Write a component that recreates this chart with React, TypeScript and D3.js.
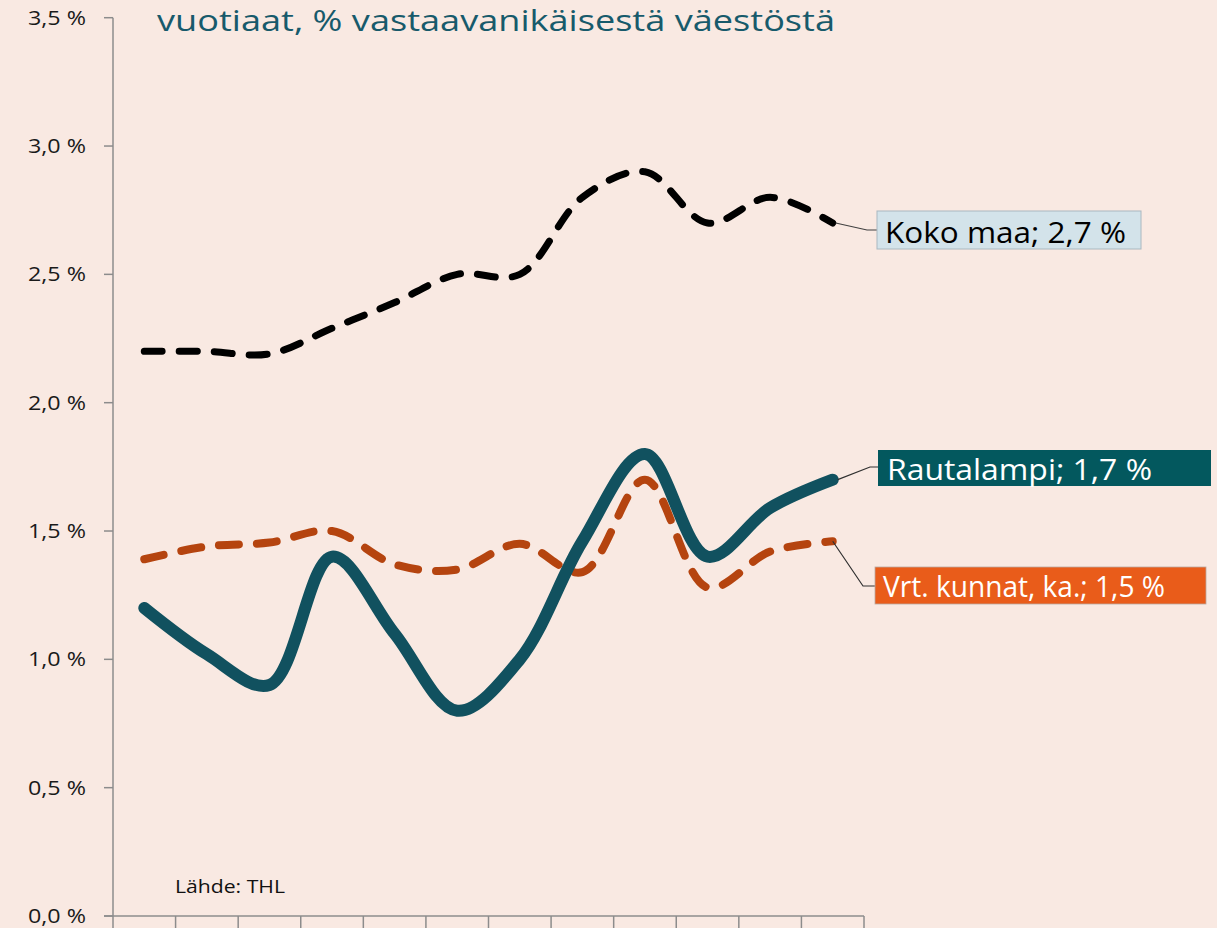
import React from "react";
import * as d3 from "d3";

const years = ["1","2","3","4","5","6","7","8","9","10","11","12"];
const kokoMaa = [2.2, 2.2, 2.19, 2.29, 2.39, 2.5, 2.5, 2.8, 2.9, 2.7, 2.8, 2.7];
const rautalampi = [1.2, 1.02, 0.9, 1.4, 1.1, 0.8, 1.0, 1.46, 1.8, 1.4, 1.59, 1.7];
const vrtKunnat = [1.39, 1.44, 1.455, 1.5, 1.37, 1.35, 1.45, 1.34, 1.7, 1.28, 1.42, 1.46];
const yTicks = [0, 0.5, 1, 1.5, 2, 2.5, 3, 3.5];

const W = 1217, H = 928;
const FONT = "'Open Sans', 'Noto Sans', sans-serif";

export default function App() {
  const x = d3.scaleBand<string>().domain(years).range([113, 864]);
  const y = d3.scaleLinear().domain([0, 3.5]).range([916, 17.7]);
  const cx = (i: number) => (x(years[i]) as number) + x.bandwidth() / 2;
  const line = d3
    .line<number>()
    .x((_, i) => cx(i))
    .y((d) => y(d))
    .curve(d3.curveCatmullRom.alpha(0.5));
  const fmt = (v: number) => v.toFixed(1).replace(".", ",") + " %";
  const boundaries = years.map((yr) => x(yr) as number).concat([864]);
  const last = years.length - 1;

  return (
    <svg
      width={W}
      height={H}
      style={{ position: "absolute", left: 0, top: 0, display: "block" }}
    >
      <rect x={0} y={0} width={W} height={H} fill="#F9E9E2" />
      <text
        x={157}
        y={31}
        fontFamily={FONT}
        fontSize={29}
        fill="#175A6B"
        textLength={678}
        lengthAdjust="spacingAndGlyphs"
      >
        vuotiaat, % vastaavanikäisestä väestöstä
      </text>

      {/* y axis */}
      <line x1={113} x2={113} y1={y(3.5)} y2={916} stroke="#8C8C8C" strokeWidth={1.5} />
      {yTicks.map((t) => (
        <g key={t}>
          <line x1={104} x2={113} y1={y(t)} y2={y(t)} stroke="#8C8C8C" strokeWidth={1.5} />
          <text
            x={86}
            y={y(t) + 7}
            textAnchor="end"
            fontFamily={FONT}
            fontSize={20}
            fill="#1a1a1a"
            textLength={58}
            lengthAdjust="spacingAndGlyphs"
          >
            {fmt(t)}
          </text>
        </g>
      ))}
      {/* x axis */}
      <line x1={104} x2={864} y1={916} y2={916} stroke="#8C8C8C" strokeWidth={1.5} />
      {boundaries.map((b, i) => (
        <line key={i} x1={b} x2={b} y1={916} y2={928} stroke="#8C8C8C" strokeWidth={1.5} />
      ))}

      <text
        x={175}
        y={893}
        fontFamily={FONT}
        fontSize={18}
        fill="#111"
        textLength={110}
        lengthAdjust="spacingAndGlyphs"
      >
        Lähde: THL
      </text>

      {/* lines */}
      <path
        d={line(kokoMaa) as string}
        fill="none"
        stroke="#000"
        strokeWidth={7}
        strokeLinecap="round"
        strokeDasharray="18 17"
      />
      <path
        d={line(vrtKunnat) as string}
        fill="none"
        stroke="#B5440F"
        strokeWidth={8}
        strokeLinecap="round"
        strokeDasharray="20 18"
      />
      <path
        d={line(rautalampi) as string}
        fill="none"
        stroke="#11515F"
        strokeWidth={12}
        strokeLinecap="round"
      />

      {/* Koko maa label */}
      <polyline
        points={`${cx(last) + 3},${y(kokoMaa[last])} 867,230 877,230`}
        fill="none"
        stroke="#404040"
        strokeWidth={1.2}
      />
      <rect x={877} y={211} width={264} height={38} fill="#D3E3EA" stroke="#A9B8C0" strokeWidth={1} />
      <text
        x={885}
        y={243}
        fontFamily={FONT}
        fontSize={30}
        fill="#000"
        textLength={241}
        lengthAdjust="spacingAndGlyphs"
      >
        {`Koko maa; ${fmt(kokoMaa[last])}`}
      </text>

      {/* Rautalampi label */}
      <polyline
        points={`${cx(last) + 5},${y(rautalampi[last])} 870,467 878,467`}
        fill="none"
        stroke="#303030"
        strokeWidth={1.2}
      />
      <rect x={878} y={450} width={333} height={36} fill="#03585E" />
      <text
        x={887}
        y={480}
        fontFamily={FONT}
        fontSize={30}
        fill="#fff"
        textLength={265}
        lengthAdjust="spacingAndGlyphs"
      >
        {`Rautalampi; ${fmt(rautalampi[last])}`}
      </text>

      {/* Vrt. kunnat label */}
      <polyline
        points={`${cx(last)},${y(vrtKunnat[last])} 863,586 875,586`}
        fill="none"
        stroke="#303030"
        strokeWidth={1.2}
      />
      <rect x={875} y={567} width={331} height={37} fill="#E95C1A" stroke="#B9A9A0" strokeWidth={0.8} />
      <text
        x={883}
        y={597}
        fontFamily={FONT}
        fontSize={30}
        fill="#fff"
        textLength={282}
        lengthAdjust="spacingAndGlyphs"
      >
        {`Vrt. kunnat, ka.; ${fmt(vrtKunnat[last])}`}
      </text>
    </svg>
  );
}
